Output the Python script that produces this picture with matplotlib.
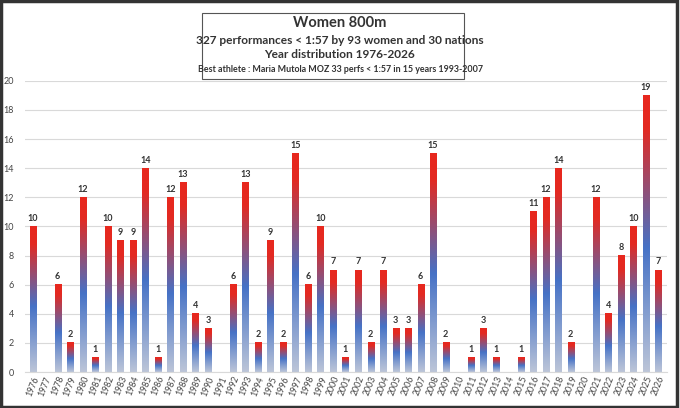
import numpy as np
import matplotlib.pyplot as plt
from matplotlib.colors import LinearSegmentedColormap
from matplotlib.patches import Rectangle

years = list(range(1976, 2027))
counts = [10, 0, 6, 2, 12, 1, 10, 9, 9, 14,
          1, 12, 13, 4, 3, 0, 6, 13, 2, 9,
          2, 15, 6, 10, 7, 1, 7, 2, 7, 3,
          3, 6, 15, 2, 0, 1, 3, 1, 0, 1,
          11, 12, 14, 2, 0, 12, 4, 8, 10, 19, 7]

title_lines = ["Women 800m",
               "327 performances < 1:57 by 93 women and 30 nations",
               "Year distribution 1976-2026",
               "Best athlete : Maria Mutola MOZ 33 perfs < 1:57 in 15 years 1993-2007"]

plt.rcParams['font.family'] = ['Lato', 'DejaVu Sans']

cmap = LinearSegmentedColormap.from_list(
    "bars", [(0.0, "#bcc5d8"), (0.45, "#4672c6"), (0.88, "#e32a22"), (1.0, "#e8281e")])
grad = np.linspace(0, 1, 256).reshape(-1, 1)

fig = plt.figure(figsize=(6.8, 4.08), dpi=100)
ax = fig.add_axes([0.037, 0.088, 0.944, 0.714])

x = np.arange(len(years))
bars = ax.bar(x, counts, width=0.48, color="none", edgecolor="none", zorder=2)
for b, v in zip(bars, counts):
    if v == 0:
        continue
    x0 = b.get_x()
    ax.imshow(grad, extent=[x0, x0 + b.get_width(), 0, b.get_height()],
              origin="lower", aspect="auto", cmap=cmap, zorder=2)
    ax.text(b.get_x() + b.get_width() / 2, v + 0.25, str(v), ha="center", va="bottom",
            fontsize=6.5, fontweight="bold", color="#333333")

ax.set_xlim(-0.6, 50.7)
ax.set_ylim(0, 20)
ax.set_yticks(range(0, 21, 2))
ax.set_xticks(x)
ax.set_xticklabels([str(y) for y in years], rotation=68, fontsize=6.3, color="#444444",
                   ha="center", va="top")
ax.tick_params(axis="y", labelsize=6.5, labelcolor="#444444", length=0, pad=8)
ax.tick_params(axis="x", length=0, pad=2)
ax.grid(axis="y", color="#d9d9d9", linewidth=0.8, zorder=0)
ax.set_axisbelow(True)
for s in ax.spines.values():
    s.set_visible(False)
ax.spines["bottom"].set_visible(True)
ax.spines["bottom"].set_color("#d9d9d9")

# title box
fig.patches.append(Rectangle((202 / 680, 1 - 79 / 408), 262 / 680, 66 / 408,
                             transform=fig.transFigure, facecolor="white",
                             edgecolor="#555555", linewidth=0.8))
fig.text(0.5, 1 - 23 / 408, title_lines[0], ha="center", va="center",
         fontsize=10.5, fontweight="bold", color="#333333")
fig.text(0.5, 1 - 40 / 408, title_lines[1], ha="center", va="center",
         fontsize=8.6, fontweight="bold", color="#333333")
fig.text(0.5, 1 - 55 / 408, title_lines[2], ha="center", va="center",
         fontsize=8.6, fontweight="bold", color="#333333")
fig.text(0.5, 1 - 70 / 408, title_lines[3], ha="center", va="center",
         fontsize=6.4, fontweight="bold", color="#333333")

# outer frame
fig.patches.append(Rectangle((0.002, 0.003), 0.993, 0.994, transform=fig.transFigure,
                             facecolor="none", edgecolor="#333333", linewidth=2.5))

fig.savefig("out.png", dpi=100)
